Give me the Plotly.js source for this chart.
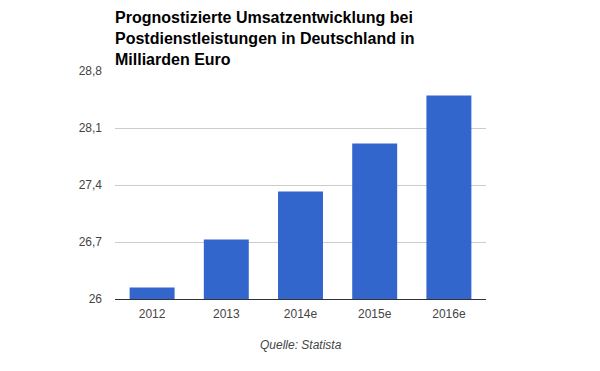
<!DOCTYPE html>
<html>
<head>
<meta charset="utf-8">
<script src="https://cdn.plot.ly/plotly-3.0.1.min.js"></script>
<style>html,body{margin:0;padding:0;background:#fff;}#chart{width:600px;height:371px;}</style>
</head>
<body>
<div id="chart"></div>
<script>
const categories = ["2012", "2013", "2014e", "2015e", "2016e"];
const revenue = [26.14, 26.73, 27.32, 27.91, 28.5];
const yTickVals = [26, 26.7, 27.4, 28.1, 28.8];
const yTickText = ["26", "26,7", "27,4", "28,1", "28,8"];
const titleText = "Prognostizierte Umsatzentwicklung bei<br>Postdienstleistungen in Deutschland in<br>Milliarden Euro";
const sourceText = "Quelle: Statista";
const axisBase = 26;

const trace = {
  type: "bar",
  x: categories,
  y: revenue.map(v => v - axisBase),
  base: axisBase,
  marker: {color: "#3366CC"},
  hoverinfo: "none"
};

const layout = {
  width: 600,
  height: 371,
  margin: {l: 115, r: 114, t: 71, b: 72, pad: 0},
  paper_bgcolor: "#fff",
  plot_bgcolor: "#fff",
  font: {family: "Liberation Sans, Arial, sans-serif", size: 12, color: "#444"},
  separators: ",.",
  title: {
    text: titleText,
    font: {family: "Liberation Sans, Arial, sans-serif", size: 16, color: "#000", weight: "bold"},
    xref: "paper", x: 0, xanchor: "left",
    yref: "container", y: 1 - 23/371, yanchor: "top"
  },
  bargap: 0.394,
  showlegend: false,
  xaxis: {
    type: "category",
    showgrid: false,
    showline: true,
    linecolor: "#333",
    linewidth: 1,
    ticks: "",
    ticklabelstandoff: 4,
    tickfont: {size: 12, color: "#444"},
    zeroline: false,
    fixedrange: true
  },
  yaxis: {
    range: [26, 28.8],
    tickmode: "array",
    tickvals: yTickVals,
    ticktext: yTickText,
    showgrid: true,
    gridcolor: "#cccccc",
    gridwidth: 1,
    showline: false,
    zeroline: false,
    ticks: "",
    ticklabelstandoff: 12,
    tickfont: {size: 12, color: "#444"},
    fixedrange: true
  },
  annotations: [{
    text: sourceText,
    xref: "paper", x: 0.5, xanchor: "center",
    yref: "paper", y: -0.2, yanchor: "middle",
    showarrow: false,
    font: {size: 12, color: "#444", style: "italic"}
  }]
};

Plotly.newPlot("chart", [trace], layout, {displayModeBar: false, staticPlot: true});
</script>
</body>
</html>
